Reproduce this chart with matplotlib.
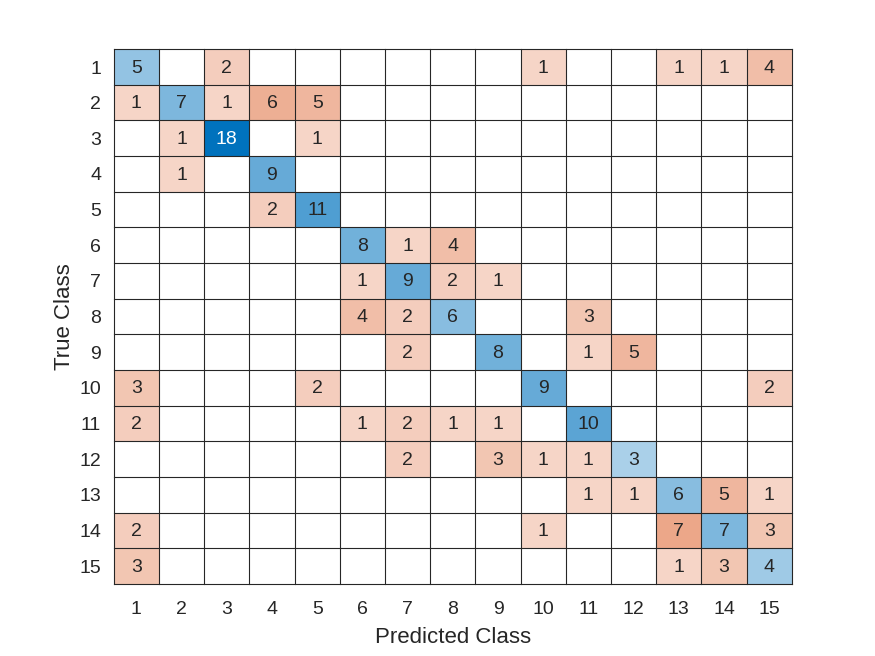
import numpy as np
import matplotlib
matplotlib.use("Agg")
import matplotlib.pyplot as plt
from matplotlib.patches import Rectangle

classes = [str(i) for i in range(1, 16)]

# confusion counts: rows = true class, columns = predicted class
row1  = [5, 0, 2, 0, 0, 0, 0, 0, 0, 1, 0, 0, 1, 1, 4]
row2  = [1, 7, 1, 6, 5, 0, 0, 0, 0, 0, 0, 0, 0, 0, 0]
row3  = [0, 1, 18, 0, 1, 0, 0, 0, 0, 0, 0, 0, 0, 0, 0]
row4  = [0, 1, 0, 9, 0, 0, 0, 0, 0, 0, 0, 0, 0, 0, 0]
row5  = [0, 0, 0, 2, 11, 0, 0, 0, 0, 0, 0, 0, 0, 0, 0]
row6  = [0, 0, 0, 0, 0, 8, 1, 4, 0, 0, 0, 0, 0, 0, 0]
row7  = [0, 0, 0, 0, 0, 1, 9, 2, 1, 0, 0, 0, 0, 0, 0]
row8  = [0, 0, 0, 0, 0, 4, 2, 6, 0, 0, 3, 0, 0, 0, 0]
row9  = [0, 0, 0, 0, 0, 0, 2, 0, 8, 0, 1, 5, 0, 0, 0]
row10 = [3, 0, 0, 0, 2, 0, 0, 0, 0, 9, 0, 0, 0, 0, 2]
row11 = [2, 0, 0, 0, 0, 1, 2, 1, 1, 0, 10, 0, 0, 0, 0]
row12 = [0, 0, 0, 0, 0, 0, 2, 0, 3, 1, 1, 3, 0, 0, 0]
row13 = [0, 0, 0, 0, 0, 0, 0, 0, 0, 0, 1, 1, 6, 5, 1]
row14 = [2, 0, 0, 0, 0, 0, 0, 0, 0, 1, 0, 0, 7, 7, 3]
row15 = [3, 0, 0, 0, 0, 0, 0, 0, 0, 0, 0, 0, 1, 3, 4]

counts = np.array([row1, row2, row3, row4, row5, row6, row7, row8,
                   row9, row10, row11, row12, row13, row14, row15])

BLUE = np.array([0, 114, 189]) / 255.0
ORANGE = np.array([217, 83, 25]) / 255.0
WHITE = np.ones(3)
TXT = "#262626"

plt.rcParams['font.family'] = ['Liberation Sans', 'DejaVu Sans']

fig = plt.figure(figsize=(8.75, 6.56), dpi=100)
ax = fig.add_axes([0.13, 0.11, 0.775, 0.815])

n = len(classes)
vmax = counts.max()
for i in range(n):
    for j in range(n):
        v = counts[i, j]
        if v > 0:
            f = 0.2 + 0.8 * v / vmax
            base = BLUE if i == j else ORANGE
            col = WHITE * (1 - f) + base * f
            tc = "white" if f > 0.85 else TXT
            ax.add_patch(Rectangle((j + 0.5, i + 0.5), 1, 1, facecolor=col,
                                   edgecolor="none", zorder=1))
            ax.text(j + 1, i + 1.03, str(v), ha="center", va="center",
                    fontsize=14, color=tc, zorder=3)

for k in range(n + 1):
    ax.axhline(k + 0.5, color=TXT, lw=0.8, zorder=2, clip_on=False)
    ax.axvline(k + 0.5, color=TXT, lw=0.8, zorder=2, clip_on=False)

ax.set_xlim(0.5, n + 0.5)
ax.set_ylim(n + 0.5, 0.5)
ax.set_xticks(range(1, n + 1))
ax.set_yticks(range(1, n + 1))
ax.set_xticklabels(classes)
ax.set_yticklabels(classes)
ax.tick_params(length=0, labelsize=14, colors=TXT)
ax.tick_params(axis='y', pad=9)
ax.tick_params(axis='x', pad=12)
for s in ax.spines.values():
    s.set_visible(False)
ax.set_xlabel("Predicted Class", fontsize=16, color=TXT, labelpad=7)
ax.set_ylabel("True Class", fontsize=16, color=TXT, labelpad=3)

fig.savefig("out.png", dpi=100)
